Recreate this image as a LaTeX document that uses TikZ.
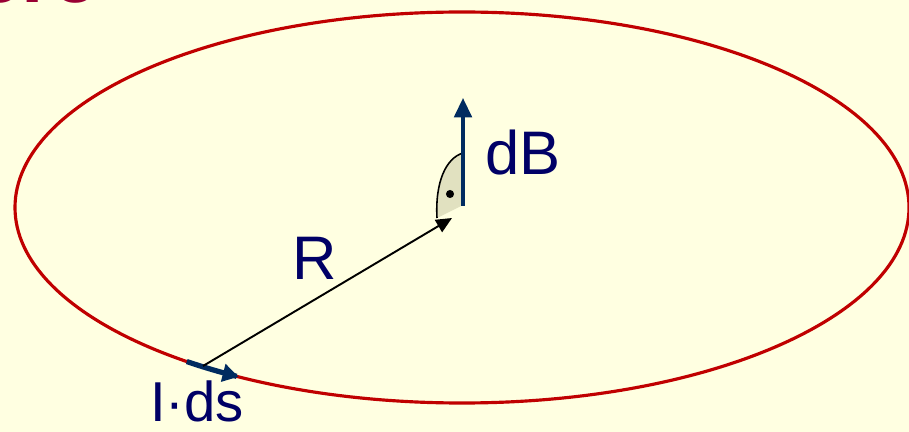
\documentclass[tikz,border=0pt]{standalone}
\usepackage{fontspec}
\setmainfont{Liberation Sans}
\usepackage{tikz}
\usetikzlibrary{arrows.meta}
\definecolor{paper}{HTML}{FFFFE1}
\definecolor{ringred}{HTML}{C00000}
\definecolor{title}{HTML}{990033}
\definecolor{ink}{HTML}{000066}
\definecolor{field}{HTML}{002B60}
\definecolor{wedge}{HTML}{E1E1C0}

\begin{document}
\begin{tikzpicture}[x=0.02cm,y=-0.02cm,
    lbl/.style={text=ink,inner sep=0pt,font=\fontsize{35}{40}\selectfont},
    vec/.style={line width=1.9pt,draw=field}]
  \fill[paper] (0,0) rectangle (909,432);
  \useasboundingbox (0,0) rectangle (909,432);
  % title, cut off at the top
  \node[anchor=base east,inner sep=0pt,text=title,font=\fontsize{46}{50}\selectfont\bfseries] (head) at (98,3) {ere};
  % current loop
  \draw[draw=ringred,line width=1.8pt] (462,207.5) ellipse [x radius=447,y radius=195.5];
  \coordinate (ds) at (203,366);
  \coordinate (P) at (452,218);
  % element I ds along the loop
  \draw[vec,line width=3pt,-{Triangle[length=9pt,width=10pt,fill=field]}]
    plot[domain=128:120,smooth,variable=\a] ({462+447*cos(\a)},{207.5+195.5*sin(\a)});
  % shaded right angle at the field point
  \fill[wedge] (463,153) .. controls (446,158) and (435,182) .. (437,218) -- (463,205) -- cycle;
  \draw[line width=0.9pt] (463,153) .. controls (446,158) and (435,182) .. (437,218);
  \fill (450,194) circle (2.3pt);
  % field vector
  \coordinate (Pb) at (463,206);
  \coordinate (Bt) at (463,98);
  \draw[vec,-{Triangle[length=11pt,width=10pt,fill=field]}] (Pb) -- (Bt);
  % radius
  \draw[line width=1.1pt,-{Triangle[length=9pt,width=8pt]}] (ds) -- (P);
  \node[lbl,anchor=base west] (Rlab) at (292,279) {R};
  \node[lbl,anchor=base west] (Blab) at (485,175) {dB};
  \node[lbl,anchor=base west,font=\fontsize{32}{36}\selectfont] (dslab) at (150,421) {I·ds};
\end{tikzpicture}
\end{document}
